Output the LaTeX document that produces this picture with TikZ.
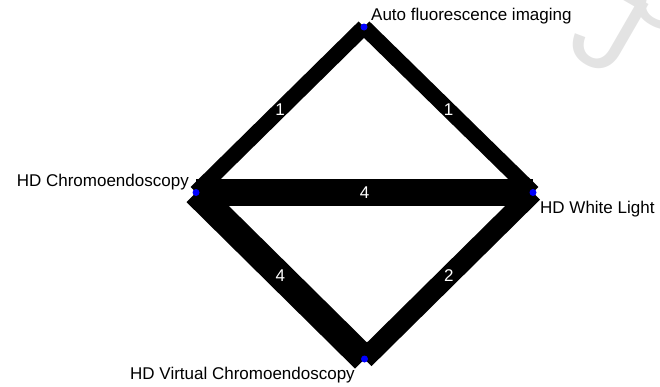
\documentclass[tikz,border=0pt]{standalone}
\usepackage{fontspec}
\setmainfont{Liberation Sans}
\usetikzlibrary{backgrounds}

\begin{document}
\begin{tikzpicture}[x=1pt,y=-1pt,line cap=round,line join=round,
 vtx/.style={circle,fill=blue,inner sep=0pt,minimum size=7pt},
 lbl/.style={inner sep=0pt,text=black},
 edgeone/.style={line width=15.5pt,draw=black},
 edgetwo/.style={line width=20pt,draw=black},
 edgefour/.style={line width=27pt,draw=black},
 wlab/.style={text=white,inner sep=1pt},
 wmark/.style={text=black!11,inner sep=0pt,rotate=-30,font=\fontsize{120}{140}\selectfont},
 every node/.style={font=\fontsize{17}{20}\selectfont}]
\useasboundingbox (0,0) rectangle (660,386);
% treatments
\node[vtx] (afi) at (364,27) {};
\node[vtx] (hdc) at (196,192.5) {};
\node[vtx] (hdwl) at (533,192.5) {};
\node[vtx] (hdvc) at (364.5,359) {};
\node[lbl,anchor=base west] (afiL) at (371,20) {Auto fluorescence imaging};
\node[lbl,anchor=base east] (hdcL) at (189,186) {HD Chromoendoscopy};
\node[lbl,anchor=base west] (hdwlL) at (540,213) {HD White Light};
\node[lbl,anchor=base west] (hdvcL) at (130,379) {HD Virtual Chromoendoscopy};
% comparisons, width by number of studies
\begin{scope}[on background layer]
 \node[wmark,anchor=base west] (wmJ) at (563,50) {J};
 \node[wmark,anchor=center] (wmO) at (667,-3) {o};
 \draw[edgeone] (afi.center) -- node[wlab] {1} (hdc.center);
 \draw[edgeone] (afi.center) -- node[wlab] {1} (hdwl.center);
 \draw[edgefour] (hdc.center) -- node[wlab] {4} (hdwl.center);
 \draw[edgefour] (hdc.center) -- node[wlab] {4} (hdvc.center);
 \draw[edgetwo] (hdwl.center) -- node[wlab] {2} (hdvc.center);
\end{scope}
\end{tikzpicture}
\end{document}
